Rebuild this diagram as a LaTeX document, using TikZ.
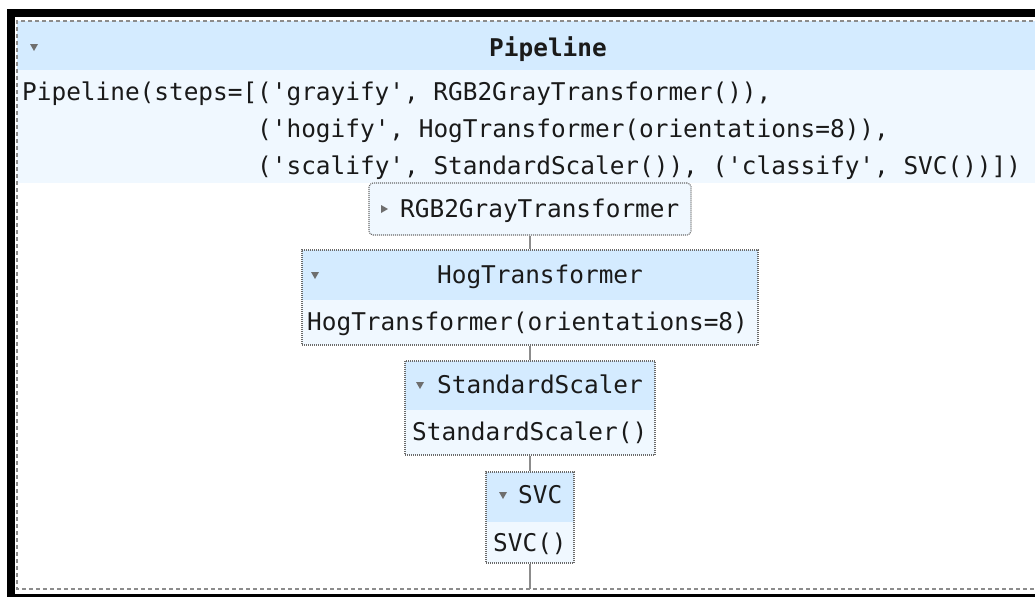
\documentclass[tikz,border=0pt]{standalone}
\usepackage{fontspec}
\setmonofont{DejaVu Sans Mono}
\definecolor{hdrblue}{HTML}{D4EBFF}
\definecolor{bodyblue}{HTML}{F0F8FF}
\definecolor{linegray}{HTML}{8C8C8C}
\definecolor{dotgray}{HTML}{6A6A6A}
\definecolor{trigray}{HTML}{6E6E6E}
\definecolor{ink}{HTML}{1A1A1A}
\newcommand{\downtri}[2]{\fill[trigray] ({#1-4},{#2-3}) -- ({#1+4},{#2-3}) -- ({#1},{#2+4}) -- cycle;}
\newcommand{\righttri}[2]{\fill[trigray] ({#1-3},{#2-4}) -- ({#1+4},{#2}) -- ({#1-3},{#2+4}) -- cycle;}
\begin{document}
\begin{tikzpicture}[x=1pt,y=-1pt,
  every node/.style={font=\fontsize{24.4}{30}\selectfont\ttfamily, text=ink},
  txt/.style={anchor=base west, inner sep=0pt},
  ctxt/.style={anchor=base, inner sep=0pt},
  estbox/.style={draw=dotgray, line width=1.1pt, dash pattern=on 1pt off 1pt, inner sep=0pt},
  outer/.style={draw=linegray, line width=1.4pt, dash pattern=on 4pt off 3pt},
  link/.style={draw=linegray, line width=1.6pt}]
\useasboundingbox (0,0) rectangle (1035,597);
\fill[white] (0,0) rectangle (1035,597);
% window frame
\fill[black] (7,9) rectangle (1035,17);
\fill[black] (7,9) rectangle (15,597);
\fill[black] (7,594) rectangle (1035,597);
% pipeline panel
\fill[hdrblue] (17,21) rectangle (1035,70);
\fill[bodyblue] (17,70) rectangle (1035,183);
\draw[outer] (1040,21) -- (17,21) -- (17,589) -- (1040,589);
\downtri{34}{47}
\node[ctxt] (ptitle) at (548,56) {\bfseries Pipeline};
\node[txt] (code1) at (22,100) {Pipeline(steps=[('grayify', RGB2GrayTransformer()),};
\node[txt] (code2) at (22,137) {\phantom{Pipeline(steps=[}('hogify', HogTransformer(orientations=8)),};
\node[txt] (code3) at (22,174) {\phantom{Pipeline(steps=[}('scalify', StandardScaler()), ('classify', SVC())])};

% RGB2GrayTransformer (collapsed)
\node[estbox, rounded corners=4pt, fill=bodyblue, minimum width=322pt, minimum height=52pt] (rgb) at (530,209) {};
\righttri{384}{209}
\node[txt] (rgbt) at (400,217) {RGB2GrayTransformer};

% HogTransformer
\fill[hdrblue] (302,250) rectangle (758,300);
\fill[bodyblue] (302,300) rectangle (758,345);
\node[estbox, minimum width=456pt, minimum height=95pt] (hog) at (530,297.5) {};
\downtri{315}{275}
\node[ctxt] (hogt) at (540,283) {HogTransformer};
\node[txt] (hogb) at (307,330) {HogTransformer(orientations=8)};

% StandardScaler
\fill[hdrblue] (405,361) rectangle (655,410);
\fill[bodyblue] (405,410) rectangle (655,455);
\node[estbox, minimum width=250pt, minimum height=94pt] (std) at (530,408) {};
\downtri{420}{385}
\node[txt] (stdt) at (437,393) {StandardScaler};
\node[txt] (stdb) at (412,440) {StandardScaler()};

% SVC
\fill[hdrblue] (486,472) rectangle (574,522);
\fill[bodyblue] (486,522) rectangle (574,563);
\node[estbox, minimum width=88pt, minimum height=91pt] (svc) at (530,517.5) {};
\downtri{503}{495}
\node[txt] (svct) at (518,503) {SVC};
\node[txt] (svcb) at (493,551) {SVC()};

% connectors
\coordinate (tail) at (530,589);
\draw[link] (rgb.south) -- (hog.north);
\draw[link] (hog.south) -- (std.north);
\draw[link] (std.south) -- (svc.north);
\draw[link] (svc.south) -- (tail);
\end{tikzpicture}
\end{document}
